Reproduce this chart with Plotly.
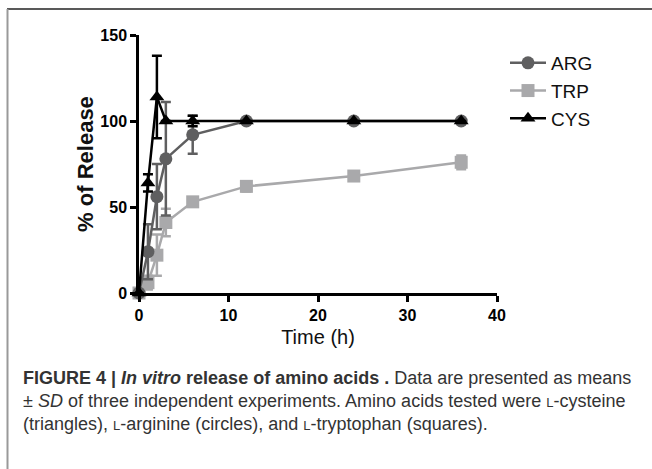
import plotly.graph_objects as go

# ---- data ----
time_h = [0, 1, 2, 3, 6, 12, 24, 36]
arg_mean = [0, 24, 56, 78, 92, 100, 100, 100]
arg_sd = [0, 16, 19, 33, 11, 1, 1, 1]
trp_mean = [0, 6, 22, 41, 53, 62, 68, 76]
trp_sd = [0, 4, 12, 8, 2, 3, 2, 4]
cys_mean = [0, 64, 114, 100, 100, 100, 100, 100]
cys_sd = [0, 5, 24, 0, 3, 0, 0, 0]
x_ticks = [0, 10, 20, 30, 40]
y_ticks = [0, 50, 100, 150]

ARG_C = "#5f5f60"
TRP_C = "#a9a9ab"
CYS_C = "#000000"

# pixel geometry helpers (plot area 139..497 x, 35..293 y)
L, R, T, B = 139, 497, 35, 293
W, H = 652, 469
def px(x):
    return (x - L) / (R - L)
def py(y):
    return (B - y) / (B - T)

fig = go.Figure()

def add(name, mean, sd, color, symbol, size, rank):
    fig.add_trace(go.Scatter(
        x=time_h, y=mean, name=name, mode="lines+markers",
        line=dict(color=color, width=2.5),
        marker=dict(symbol=symbol, size=size, color=color),
        error_y=dict(type="data", array=sd, visible=True, color=color,
                     thickness=2.5, width=5),
        cliponaxis=False, legendrank=rank,
    ))

add("TRP", trp_mean, trp_sd, TRP_C, "square", 13, 2)
add("ARG", arg_mean, arg_sd, ARG_C, "circle", 13, 1)
add("CYS", cys_mean, cys_sd, CYS_C, "triangle-up", 13, 3)

axis_common = dict(
    showline=True, linecolor="black", linewidth=2.5,
    ticks="outside", ticklen=6, tickwidth=2.5, tickcolor="black",
    showgrid=False, zeroline=False,
    tickfont=dict(family="Liberation Sans", size=16, color="black", weight="bold"),
)

fig.update_xaxes(range=[0, 40], tickvals=x_ticks, **axis_common,
                 title=dict(text="Time (h)", standoff=8,
                            font=dict(family="Liberation Sans", size=20, color="#111")))
fig.update_yaxes(range=[0, 150], tickvals=y_ticks, **axis_common,
                 title=dict(text="<b>% of Release</b>", standoff=1,
                            font=dict(family="Liberation Sans", size=22, color="#111")))

fig.update_layout(
    width=W, height=H,
    margin=dict(l=L, r=W - R, t=T, b=H - B, pad=0),
    paper_bgcolor="white", plot_bgcolor="white",
    showlegend=True,
    legend=dict(x=px(505), y=py(44), xanchor="left", yanchor="top",
                font=dict(family="Liberation Sans", size=19, color="#111"),
                bgcolor="rgba(0,0,0,0)", itemwidth=36, tracegroupgap=0),
)

# frame
fig.add_shape(type="line", xref="paper", yref="paper",
              x0=px(7), x1=px(652), y0=py(9), y1=py(9),
              line=dict(color="#222", width=1.5))
fig.add_shape(type="line", xref="paper", yref="paper",
              x0=px(7.5), x1=px(7.5), y0=py(9), y1=py(470),
              line=dict(color="#999", width=2))

sc = "<span style='font-size:13px'>L</span>"
caption = [
    "<b>FIGURE 4 | <i>In vitro</i> release of amino acids .</b> Data are presented as means",
    "± <i>SD</i> of three independent experiments. Amino acids tested were " + sc + "-cysteine",
    "(triangles), " + sc + "-arginine (circles), and " + sc + "-tryptophan (squares).",
]
for i, line in enumerate(caption):
    fig.add_annotation(text=line, xref="paper", yref="paper",
                       x=px(21), y=py(378 + 23 * i), xanchor="left", yanchor="middle",
                       showarrow=False, align="left",
                       font=dict(family="Liberation Sans", size=18, color="#333"))

fig.write_html("out.html", config={"displayModeBar": False},
               post_script="document.body.style.margin='0';")
